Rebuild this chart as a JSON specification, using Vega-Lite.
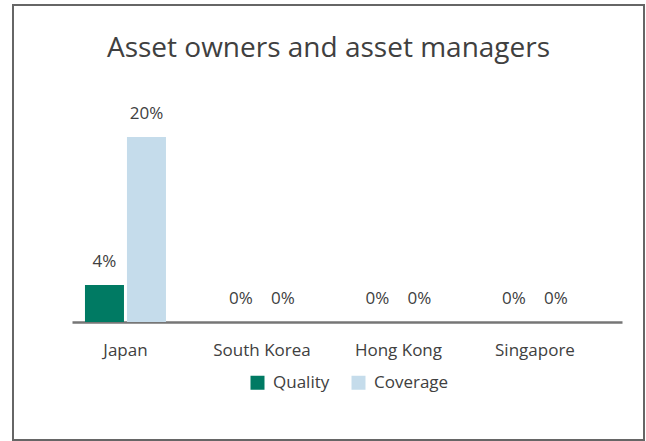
{
  "$schema": "https://vega.github.io/schema/vega-lite/v6.json",
  "autosize": "none",
  "width": 631,
  "height": 435,
  "padding": {"left": 13, "top": 5, "right": 2, "bottom": 1},
  "background": "white",
  "config": {
    "view": {"stroke": "#666666", "strokeWidth": 2},
    "font": "Open Sans"
  },
  "title": {
    "text": "Asset owners and asset managers",
    "fontSize": 28,
    "fontWeight": "normal",
    "color": "#404040",
    "font": "Open Sans",
    "anchor": "middle",
    "baseline": "middle",
    "offset": -72
  },
  "data": {
    "values": [
      {"country": "Japan", "series": "Quality", "value": 0.04},
      {"country": "Japan", "series": "Coverage", "value": 0.20},
      {"country": "South Korea", "series": "Quality", "value": 0},
      {"country": "South Korea", "series": "Coverage", "value": 0},
      {"country": "Hong Kong", "series": "Quality", "value": 0},
      {"country": "Hong Kong", "series": "Coverage", "value": 0},
      {"country": "Singapore", "series": "Quality", "value": 0},
      {"country": "Singapore", "series": "Coverage", "value": 0}
    ]
  },
  "encoding": {
    "x": {
      "field": "country",
      "type": "nominal",
      "sort": ["Japan", "South Korea", "Hong Kong", "Singapore"],
      "scale": {"range": [59, 609], "paddingInner": 0.4066, "paddingOuter": 0.218, "align": 0.218, "round": false},
      "axis": {
        "title": null,
        "orient": "bottom",
        "offset": -118,
        "domainColor": "#767676",
        "domainWidth": 2.5,
        "ticks": false,
        "labelAngle": 0,
        "labelFontSize": 17,
        "labelColor": "#404040",
        "labelBaseline": "middle",
        "labelPadding": 28,
        "grid": false
      }
    },
    "xOffset": {
      "field": "series",
      "type": "nominal",
      "sort": ["Quality", "Coverage"],
      "scale": {"paddingInner": 0.0714, "paddingOuter": 0}
    },
    "y": {
      "field": "value",
      "type": "quantitative",
      "scale": {"domain": [0, 0.2], "range": [317, 132], "nice": false, "zero": true},
      "axis": null
    }
  },
  "layer": [
    {
      "mark": {"type": "bar"},
      "encoding": {
        "color": {
          "field": "series",
          "type": "nominal",
          "sort": ["Quality", "Coverage"],
          "scale": {"domain": ["Quality", "Coverage"], "range": ["#007A63", "#C5DCEB"]},
          "legend": {
            "title": null,
            "orient": "none",
            "direction": "horizontal",
            "legendX": 236,
            "legendY": 369,
            "symbolType": "square",
            "symbolSize": 196,
            "symbolStrokeWidth": 0,
            "symbolOpacity": 1,
            "labelFontSize": 17,
            "labelColor": "#404040",
            "labelOffset": 7,
            "columnPadding": 20,
            "padding": 0
          }
        }
      }
    },
    {
      "mark": {"type": "text", "baseline": "middle", "dy": -23, "fontSize": 17, "color": "#404040"},
      "encoding": {
        "text": {"field": "value", "type": "quantitative", "format": ".0%"}
      }
    }
  ]
}
